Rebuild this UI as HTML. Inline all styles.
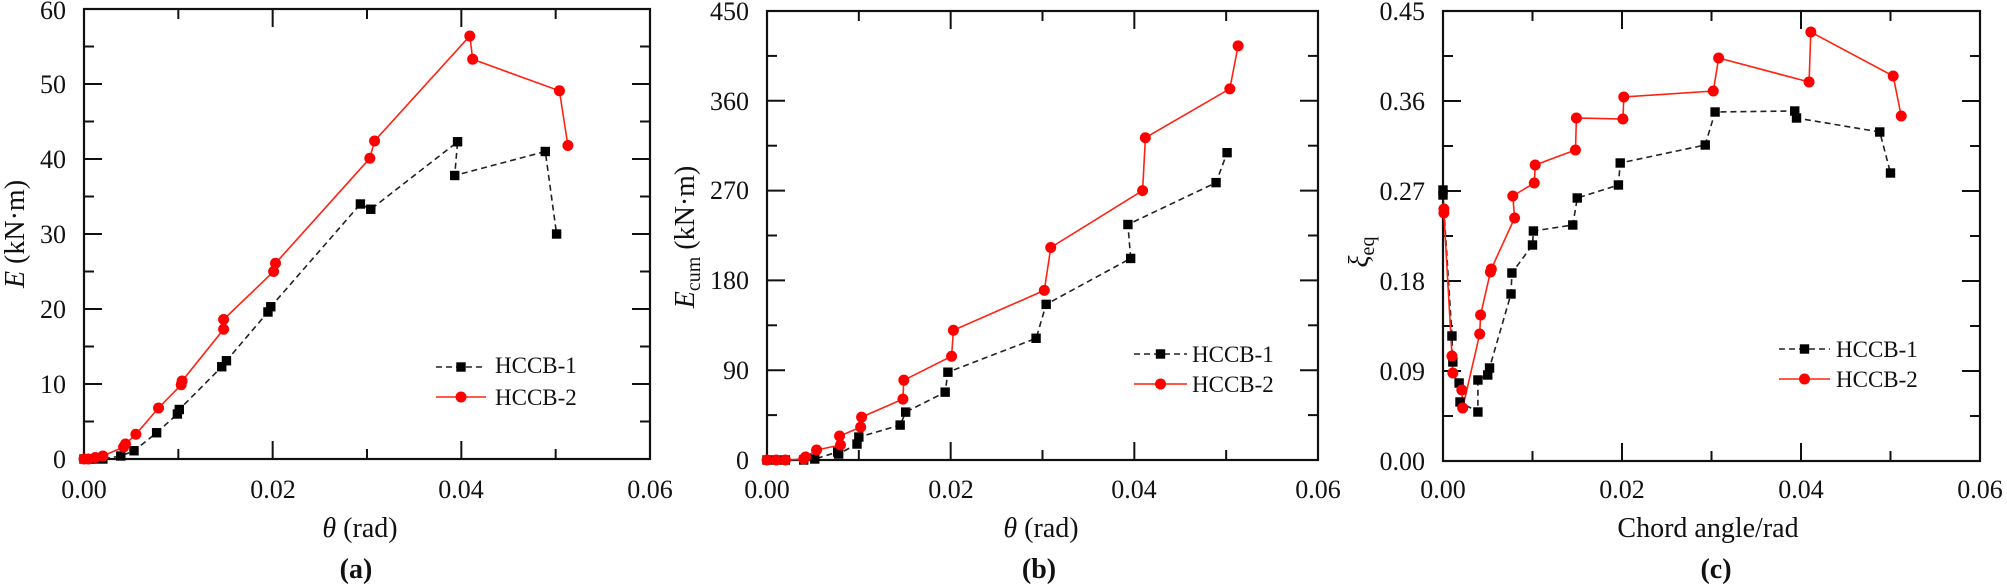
<!DOCTYPE html>
<html><head><meta charset="utf-8"><style>
html,body{margin:0;padding:0;background:#fff;}
svg{display:block;font-family:"Liberation Serif","Times New Roman",Times,serif;}
svg text{font-family:"Liberation Serif","Times New Roman",Times,serif;fill:#111;}
</style></head><body>
<svg id="s" xmlns="http://www.w3.org/2000/svg" width="2007" height="586" viewBox="0 0 2007 586" font-family="Liberation Serif, Times New Roman, serif">
<g id="plots"></g>
<g font-size="26" text-anchor="end" font-family="Liberation Serif, Times New Roman, serif">
<text x="66" y="468">0</text><text x="66" y="393">10</text><text x="66" y="318">20</text><text x="66" y="243">30</text><text x="66" y="168">40</text><text x="66" y="93">50</text><text x="66" y="19">60</text>
<text x="749" y="469">0</text><text x="749" y="379">90</text><text x="749" y="289">180</text><text x="749" y="199">270</text><text x="749" y="110">360</text><text x="749" y="20">450</text>
<text x="1425" y="470">0.00</text><text x="1425" y="380">0.09</text><text x="1425" y="290">0.18</text><text x="1425" y="200">0.27</text><text x="1425" y="110">0.36</text><text x="1425" y="20">0.45</text>
</g>
<g font-size="26" text-anchor="middle" font-family="Liberation Serif, Times New Roman, serif">
<text x="84" y="498">0.00</text><text x="273" y="498">0.02</text><text x="461" y="498">0.04</text><text x="650" y="498">0.06</text>
<text x="767" y="498">0.00</text><text x="951" y="498">0.02</text><text x="1134" y="498">0.04</text><text x="1318" y="498">0.06</text>
<text x="1443" y="498">0.00</text><text x="1622" y="498">0.02</text><text x="1801" y="498">0.04</text><text x="1980" y="498">0.06</text>
</g>
<g font-size="28" text-anchor="middle" font-family="Liberation Serif, Times New Roman, serif">
<text x="360" y="537"><tspan font-style="italic">θ</tspan> (rad)</text>
<text x="1041" y="537"><tspan font-style="italic">θ</tspan> (rad)</text>
<text x="1708" y="537">Chord angle/rad</text>
<text x="356" y="578" font-weight="bold">(a)</text>
<text x="1039" y="578" font-weight="bold">(b)</text>
<text x="1716" y="578" font-weight="bold">(c)</text>
<text transform="translate(24,234) rotate(-90)"><tspan font-style="italic">E</tspan> (kN·m)</text>
<text transform="translate(694,237) rotate(-90)"><tspan font-style="italic">E</tspan><tspan font-size="20" dy="6">cum</tspan><tspan dy="-6"> (kN·m)</tspan></text>
<text transform="translate(1368,252) rotate(-90)"><tspan font-style="italic">ξ</tspan><tspan font-size="20" dy="6">eq</tspan></text>
</g>
<g font-size="23" font-family="Liberation Serif, Times New Roman, serif">
<text x="495" y="373">HCCB-1</text><text x="495" y="405">HCCB-2</text>
<text x="1192" y="362">HCCB-1</text><text x="1192" y="392">HCCB-2</text>
<text x="1836" y="357">HCCB-1</text><text x="1836" y="387">HCCB-2</text>
</g>
</svg>
<script>
var NS="http://www.w3.org/2000/svg",G=document.getElementById("plots");
function el(t,a){var e=document.createElementNS(NS,t);for(var k in a)e.setAttribute(k,a[k]);G.appendChild(e);return e;}
var P=[
{x0:84,x1:650,y0:459,y1:9,ymax:60,ymaj:10,ymin:5,leg:[436,486,367,397],
b:[[0,0],[0.0005,0],[0.001,0],[0.002,0],[0.0039,0.4],[0.0053,1.1],[0.0077,3.5],[0.0099,6.0],[0.0101,6.6],[0.0146,12.3],[0.0151,13.1],[0.0195,19.6],[0.0198,20.3],[0.0293,34.0],[0.0304,33.3],[0.0396,42.3],[0.0393,37.8],[0.0489,41.0],[0.0501,30.0]],
r:[[0,0],[0.00046,0],[0.0012,0.2],[0.002,0.4],[0.0042,1.6],[0.0044,2.0],[0.0055,3.3],[0.0079,6.8],[0.0103,9.9],[0.0104,10.4],[0.0148,17.3],[0.0148,18.6],[0.0201,25.0],[0.0203,26.1],[0.0303,40.1],[0.0308,42.4],[0.0409,56.4],[0.0412,53.3],[0.0504,49.1],[0.0513,41.8]]},
{x0:767,x1:1318,y0:460,y1:11,ymax:450,ymaj:90,ymin:45,leg:[1134,1187,354,384],
b:[[0,0],[0.001,0],[0.002,0],[0.004,0],[0.0052,1],[0.0077,8],[0.0078,6],[0.0098,16],[0.01,23],[0.0145,35],[0.0151,48],[0.0194,68],[0.0197,88],[0.0293,122],[0.0304,156],[0.0396,202],[0.0393,236],[0.0489,278],[0.0501,308]],
r:[[0,0],[0.001,0],[0.002,0],[0.004,1],[0.0042,3],[0.0054,10],[0.008,15],[0.0079,24],[0.0102,33],[0.0103,43],[0.0148,61],[0.0149,80],[0.0201,104],[0.0203,130],[0.0302,170],[0.0309,213],[0.0409,270],[0.0412,323],[0.0504,372],[0.0513,415]]},
{x0:1443,x1:1980,y0:461,y1:11,ymax:0.45,ymaj:0.09,ymin:0.045,leg:[1779,1830,349,379],
b:[[0,0.271],[0,0.266],[0.001,0.125],[0.0011,0.099],[0.0018,0.078],[0.0019,0.059],[0.0039,0.049],[0.0039,0.081],[0.005,0.086],[0.0052,0.093],[0.0076,0.167],[0.0077,0.188],[0.01,0.216],[0.0101,0.23],[0.0145,0.236],[0.015,0.263],[0.0196,0.276],[0.0198,0.298],[0.0293,0.316],[0.0304,0.349],[0.0393,0.35],[0.0395,0.343],[0.0488,0.329],[0.05,0.288]],
r:[[0.0001,0.252],[0.0001,0.248],[0.001,0.105],[0.0011,0.088],[0.0021,0.071],[0.0022,0.053],[0.0041,0.127],[0.0042,0.146],[0.0053,0.189],[0.0054,0.192],[0.008,0.243],[0.0078,0.265],[0.0102,0.278],[0.0103,0.296],[0.0148,0.311],[0.0149,0.343],[0.0201,0.342],[0.0202,0.364],[0.0302,0.37],[0.0308,0.403],[0.0409,0.379],[0.0411,0.429],[0.0503,0.385],[0.0512,0.345]]}
];
P.forEach(function(p){
 var W=p.x1-p.x0,H=p.y0-p.y1;
 function X(v){return p.x0+v/0.06*W;} function Y(v){return p.y0-v/p.ymax*H;}
 var n=Math.round(p.ymax/p.ymin);
 for(var i=1;i<n;i++){var y=p.y0-i*H/n,L=(i%2==0)?18:10;
  el("line",{x1:p.x0,y1:y,x2:p.x0+L,y2:y,stroke:"#111","stroke-width":2});
  el("line",{x1:p.x1,y1:y,x2:p.x1-L,y2:y,stroke:"#111","stroke-width":2});}
 for(var i=1;i<6;i++){var x=p.x0+i*W/6,L=(i%2==0)?18:10;
  el("line",{x1:x,y1:p.y0,x2:x,y2:p.y0-L,stroke:"#111","stroke-width":2});
  el("line",{x1:x,y1:p.y1,x2:x,y2:p.y1+L,stroke:"#111","stroke-width":2});}
 el("rect",{x:p.x0,y:p.y1,width:W,height:H,fill:"none",stroke:"#111","stroke-width":2.2});
 var pb=p.b.map(function(d){return X(d[0]).toFixed(1)+","+Y(d[1]).toFixed(1)}).join(" ");
 var pr=p.r.map(function(d){return X(d[0]).toFixed(1)+","+Y(d[1]).toFixed(1)}).join(" ");
 el("polyline",{points:pb,fill:"none",stroke:"#222","stroke-width":1.6,"stroke-dasharray":"6,4"});
 el("polyline",{points:pr,fill:"none",stroke:"#f21",  "stroke-width":1.6});
 p.b.forEach(function(d){el("rect",{x:X(d[0])-4.7,y:Y(d[1])-4.7,width:9.4,height:9.4,fill:"#000"});});
 p.r.forEach(function(d){el("circle",{cx:X(d[0]),cy:Y(d[1]),r:5.5,fill:"#f00"});});
 var l=p.leg;
 el("line",{x1:l[0],y1:l[2],x2:l[1],y2:l[2],stroke:"#222","stroke-width":1.6,"stroke-dasharray":"6,4"});
 el("rect",{x:(l[0]+l[1])/2-4.7,y:l[2]-4.7,width:9.4,height:9.4,fill:"#000"});
 el("line",{x1:l[0],y1:l[3],x2:l[1],y2:l[3],stroke:"#f21","stroke-width":1.6});
 el("circle",{cx:(l[0]+l[1])/2,cy:l[3],r:5.5,fill:"#f00"});
});
</script>
</body></html>
